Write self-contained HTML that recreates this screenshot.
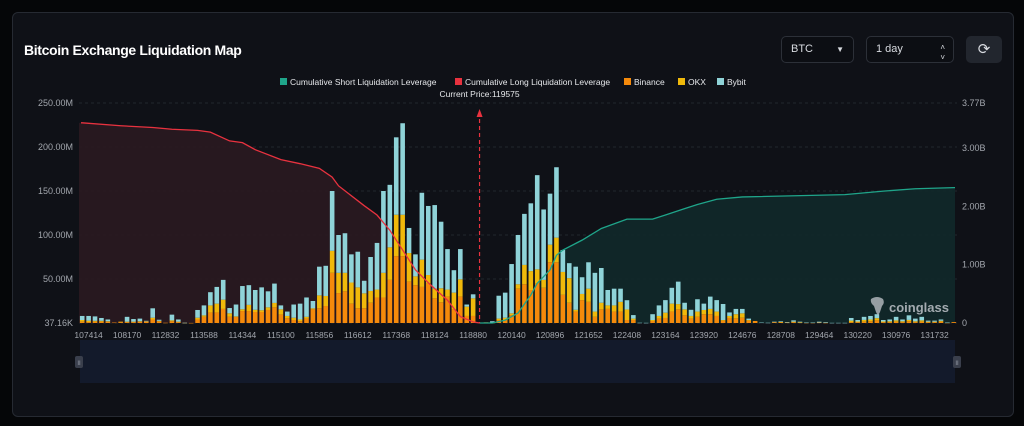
<!DOCTYPE html>
<html><head><meta charset="utf-8"><style>
html,body{margin:0;padding:0;background:#050608;width:1024px;height:426px;overflow:hidden;font-family:"Liberation Sans",sans-serif}
#card{position:absolute;left:12px;top:12px;width:1000px;height:403px;background:#0f1117;border:1px solid #262a32;border-radius:6px}
#title{position:absolute;left:24px;top:42px;color:#fff;font-weight:bold;font-size:14px;letter-spacing:-0.35px}
.box{position:absolute;border:1px solid #2c3038;border-radius:5px;background:#0c0e13;color:#d8dbe0;font-size:11px;box-sizing:border-box;padding-left:9px;line-height:25px}
svg{position:absolute;left:0;top:0}
</style></head><body>
<div id="card"></div>
<div id="title">Bitcoin Exchange Liquidation Map</div>
<div class="box" style="left:781px;top:36px;width:73px;height:27px">BTC<span style="position:absolute;right:9px;top:0;font-size:8px">▼</span></div>
<div class="box" style="left:866px;top:36px;width:88px;height:27px">1 day<span style="position:absolute;right:8px;top:-1px;font-size:8px;line-height:10px;padding-top:7px">˄<br>˅</span></div>
<div class="box" style="left:966px;top:36px;width:36px;height:27px;background:#22262e;border-color:#22262e;text-align:center;padding:0;font-size:15px">⟳</div>
<svg id="chart" width="1024" height="426"></svg>
<script>
const tickPrices=[107414,108170,112832,113588,114344,115100,115856,116612,117368,118124,118880,120140,120896,121652,122408,123164,123920,124676,128708,129464,130220,130976,131732];
const leftTicks=[0,50,100,150,200,250];
const leftTickLabels=["37.16K","50.00M","100.00M","150.00M","200.00M","250.00M"];
const rightTicks=[0,1,2,3,3.77];
const rightTickLabels=["0","1.00B","2.00B","3.00B","3.77B"];
const binance=[1.5,1,1.5,1.5,1.5,0.5,1,1,1,1.5,1.5,4,2,0.3,2,1,0.2,0.1,4,7,12,12,16,7,7,13.6,13.6,12.5,12.5,14.8,17.8,9.5,5.3,3.4,2,5,15.5,16.7,19.3,57,34,36,22,16.7,16.7,23,29,29,49,76,76,47,43,41,45,28,23.5,30,15.5,30,8,8,0,0.8,0.3,3.4,3.4,9,39,44,37.5,45,40,69,69,32,23,13,26,24,7,15.5,16,13,13,3.4,3.4,0,0,2.3,5,5.7,13,15.5,8.7,5,7,10,10,8,2.7,5.7,5.3,6,2.7,2.3,0,0,1,1,0.5,1,0.5,0.3,0.3,0.5,0.3,0,0,0,1,1,1.5,2,3,1,1,1.5,1,2,1,1.5,1,1,1.5,0.3,1];
const okx=[1.9,1.6,1,1,0.5,0,0.5,0.5,0.5,0.5,0.5,2,0.5,0,1,0.5,0,0,2,1.7,8,10,10.5,4,0.5,2,7,2.5,2,3,5,6,2.7,2.6,2,2,1.2,14.7,11.4,25,23,21,24,23.8,17,13.4,9,28,37,47,47,32.5,10,31,9.5,11,16,8,19,19.6,10.6,20,0,0,0.2,1.6,2.6,2,5,22,21.5,16,9,20,28,26,28,2,7,15,6,7.5,4,7,11,12,1.6,0,0,1.1,3,6,9,6,6.8,3,6,4.8,6,5,0.7,2.3,4.7,5,0.7,0,0,0,0,0.3,0,0.5,0.3,0,0,0,0,0,0,0,1.7,0.7,2,2,2.5,0.7,1,1.5,1,1.5,1,1.5,0.5,0.5,1,0,0];
const bybit=[4.6,5.4,5,3.2,2,0,0,5.5,3,3,0.5,10.7,1.2,0,6.5,2.5,0.1,0,8.8,11.3,15,19,22.5,6,13.5,26.4,22.4,22.5,26,18.2,22,4.5,5,15,18,22,8.3,32.6,34.3,68,43,45,32,40.5,14.3,38.6,53,93,71,88,104,28.5,25,76,78.5,95,75.6,46,25.5,34.4,2.4,4.6,0,0,1.5,26,28.5,56,56,58,77,107,80,58,80,25,17,49,19,30,44,39.5,17.5,19,15,10.5,4,0.3,0.2,6.6,12,14.3,18,25.5,7.5,7,14,7.2,14,13,18.2,4,6,5,1.6,0,0.5,0.3,0.5,0.7,0.5,1.5,0.7,0.2,0.2,1,0.7,0.2,0.2,0.2,3,1.7,3.5,4,4.5,1.7,2,4,2,5.2,3,4,1.2,1.2,1.5,0.2,0];
const longIdx=[0,6,11,14,18,20,23,25,27,31,34,37,39,40,44,46,48,50,52,54,57,59,61,62];
const longVal=[3.43,3.38,3.35,3.32,3.30,3.27,3.12,3.09,2.97,2.80,2.73,2.65,2.50,2.35,2.01,1.85,1.59,1.25,0.91,0.69,0.39,0.11,0.02,0];
const shortIdx=[62,64,66,68,70,71,73,74,75,78,81,85,89,91,94,96,99,103,119,125,130,136];
const shortVal=[0,0,0.05,0.17,0.48,0.68,0.91,1.16,1.25,1.42,1.62,1.78,1.78,1.85,1.96,2.03,2.12,2.16,2.20,2.26,2.30,2.32];
const currentPriceIdx=62;

const NS="http://www.w3.org/2000/svg";
const svg=document.getElementById('chart');
const L=79,R=957,BASE=323,N=binance.length,BW=(R-L)/N;
const x=i=>L+(i+0.5)*BW;
const yL=v=>BASE-v*0.88;
const yR=b=>BASE-b*58.36;
function mk(tag,attrs,parent){const e=document.createElementNS(NS,tag);for(const k in attrs)e.setAttribute(k,attrs[k]);(parent||svg).appendChild(e);return e;}

const legend=[["#1fa58a","Cumulative Short Liquidation Leverage",280],["#e8323f","Cumulative Long Liquidation Leverage",455],["#f58a0b","Binance",624],["#f0b90b","OKX",678],["#8fd3d8","Bybit",717]];
legend.forEach(l=>{
  const g=mk('g',{});
  
  
  mk('rect',{x:l[2],y:78,width:7,height:7,fill:l[0]},g);
  const t=mk('text',{x:l[2]+10,y:85,fill:'#e6e8eb','font-size':8.5},g);t.textContent=l[1];
});

leftTicks.forEach((v,k)=>{
  const gl=mk('line',{x1:L,x2:R,y1:yL(v),y2:yL(v),stroke:'#2a2e36','stroke-dasharray':'3,3','stroke-width':0.8});
  
  
  const t=mk('text',{x:73,y:yL(v)+3,fill:'#a3a7ae','font-size':9,'text-anchor':'end'});
  
  
  t.textContent=leftTickLabels[k];
});
rightTicks.forEach((v,k)=>{
  const t=mk('text',{x:962,y:yR(v)+3,fill:'#a3a7ae','font-size':9});
  
  
  t.textContent=rightTickLabels[k];
});

const lp=longIdx.map((i,k)=>[x(i),yR(longVal[k])]);
const sp=shortIdx.map((i,k)=>[x(i),yR(shortVal[k])]);
const lf=mk('polygon',{points:[[L,BASE],[L,lp[0][1]],...lp,[lp[lp.length-1][0],BASE]].join(' '),fill:'#2a1a20',opacity:0.9});


const sf=mk('polygon',{points:[[sp[0][0],BASE],...sp,[R-2,sp[sp.length-1][1]],[R-2,BASE]].join(' '),fill:'#11292a',opacity:0.9});



for(let i=0;i<N;i++){
  const g=mk('g',{});
  
  
  const segs=[[binance[i],'#f58a0b'],[okx[i],'#f0b90b'],[bybit[i],'#8fd3d8']];
  let acc=0;
  segs.forEach(s=>{
    if(s[0]<=0)return;
    const y0=yL(acc),y1=yL(acc+s[0]);
    mk('rect',{x:x(i)-2.3,y:y1,width:4.6,height:Math.max(0.5,y0-y1),fill:s[1]},g);
    acc+=s[0];
  });
}

const ll=mk('polyline',{points:[[L+2,lp[0][1]],...lp].join(' '),fill:'none',stroke:'#e8323f','stroke-width':1.3});


const sl=mk('polyline',{points:[...sp,[R-2,sp[sp.length-1][1]]].join(' '),fill:'none',stroke:'#1fa58a','stroke-width':1.3});



const cx=x(currentPriceIdx);
const pl=mk('line',{x1:cx,x2:cx,y1:112,y2:BASE,stroke:'#e8323f','stroke-dasharray':'4,3','stroke-width':1.2});


mk('polygon',{points:`${cx-3},117 ${cx},109 ${cx+3},117`,fill:'#e8323f'});
const ct=mk('text',{x:cx,y:97,fill:'#e6e8eb','font-size':8.5,'text-anchor':'middle'});


ct.textContent='Current Price:119575';

tickPrices.forEach((p,k)=>{
  const t=mk('text',{x:x(1+6*k),y:338,fill:'#a3a7ae','font-size':8.5,'text-anchor':'middle'});
  
  
  t.textContent=p;
});

const wm=mk('g',{opacity:0.8});


mk('path',{d:'M871,299 q6,-4 12,0 q2,4 -1,7 l-2,6 l-2,4 l-2,-4 l-2,-6 q-4,-3 -3,-7z',fill:'#b8bcc2'},wm);
const wt=mk('text',{x:889,y:312,fill:'#c8ccd2','font-size':13,'font-weight':'bold'},wm);wt.textContent='coinglass';

const sl2=mk('rect',{x:80,y:340,width:875,height:43,fill:'#131a2b'});


[79,957].forEach(hx=>{
  const h=mk('rect',{x:hx-4,y:356,width:8,height:12,rx:2,fill:'#3a3f4c'});
  
  
  mk('text',{x:hx,y:365,fill:'#9aa0aa','font-size':6,'text-anchor':'middle'}).textContent='II';
});
</script>
</body></html>
